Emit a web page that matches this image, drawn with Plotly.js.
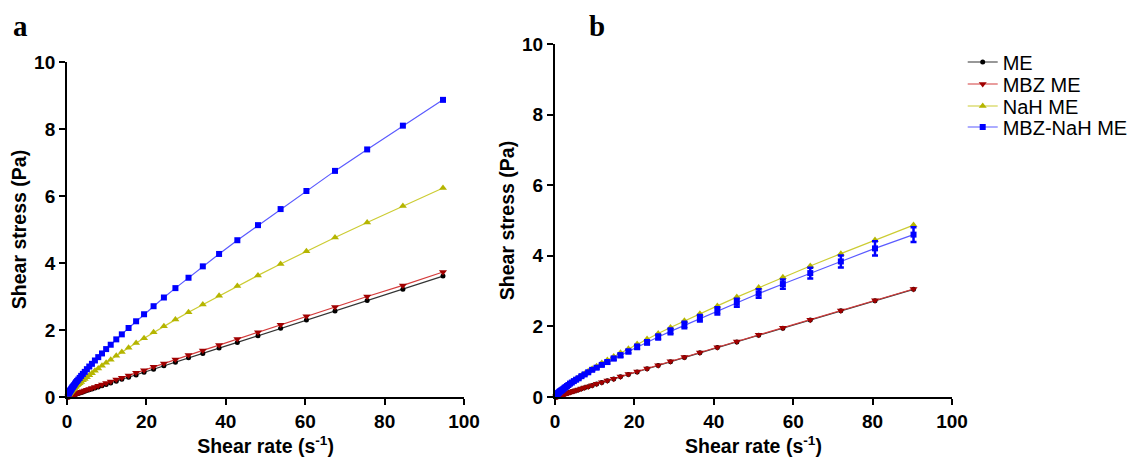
<!DOCTYPE html>
<html>
<head>
<meta charset="utf-8">
<script src="https://cdn.plot.ly/plotly-3.0.1.min.js"></script>
<style>html,body{margin:0;padding:0;background:#fff;}#chart{width:1148px;height:459px;}</style>
</head>
<body>
<div id="chart"></div>
<script>
// ---------- Data ----------
const seriesNames = ["ME", "MBZ ME", "NaH ME", "MBZ-NaH ME"];

// Panel a
const shearRateA = [94.7, 84.6, 75.6, 67.5, 60.3, 53.8, 48.1, 42.9, 38.3, 34.2, 30.6, 27.3, 24.4, 21.8, 19.4, 17.4, 15.5, 13.8, 12.4, 11.0, 9.85, 8.80, 7.86, 7.02, 6.27, 5.60, 5.00, 4.46, 3.99, 3.56, 3.18, 2.84, 2.54, 2.26, 2.02, 1.81, 1.61, 1.44, 1.29, 1.15, 1.03, 0.92, 0.82, 0.73, 0.65, 0.58, 0.52, 0.46, 0.41, 0.37];
const stressA_ME = [3.61, 3.22, 2.88, 2.57, 2.30, 2.05, 1.83, 1.63, 1.46, 1.30, 1.17, 1.04, 0.93, 0.83, 0.74, 0.66, 0.59, 0.53, 0.47, 0.42, 0.375, 0.335, 0.30, 0.267, 0.239, 0.213, 0.19, 0.17, 0.152, 0.136, 0.121, 0.108, 0.097, 0.086, 0.077, 0.069, 0.061, 0.055, 0.049, 0.044, 0.039, 0.035, 0.031, 0.028, 0.025, 0.022, 0.020, 0.018, 0.016, 0.014];
const stressA_MBZ = [3.73, 3.33, 3.00, 2.69, 2.41, 2.16, 1.93, 1.73, 1.55, 1.39, 1.25, 1.12, 1.00, 0.90, 0.80, 0.72, 0.645, 0.576, 0.519, 0.462, 0.415, 0.372, 0.334, 0.299, 0.268, 0.240, 0.215, 0.193, 0.173, 0.155, 0.139, 0.124, 0.112, 0.100, 0.089, 0.080, 0.072, 0.064, 0.058, 0.052, 0.046, 0.042, 0.037, 0.033, 0.030, 0.027, 0.024, 0.021, 0.019, 0.017];
const stressA_NaH = [6.24, 5.70, 5.21, 4.76, 4.35, 3.97, 3.63, 3.31, 3.02, 2.76, 2.53, 2.31, 2.11, 1.93, 1.75, 1.61, 1.47, 1.34, 1.23, 1.11, 1.02, 0.93, 0.85, 0.78, 0.71, 0.65, 0.59, 0.54, 0.50, 0.45, 0.41, 0.38, 0.35, 0.31, 0.29, 0.26, 0.24, 0.22, 0.20, 0.18, 0.17, 0.15, 0.14, 0.13, 0.12, 0.11, 0.10, 0.09, 0.08, 0.07];
const stressA_MBZNaH = [8.87, 8.10, 7.39, 6.75, 6.15, 5.61, 5.13, 4.68, 4.27, 3.90, 3.56, 3.25, 2.97, 2.71, 2.47, 2.26, 2.06, 1.87, 1.72, 1.56, 1.43, 1.30, 1.19, 1.09, 0.99, 0.91, 0.83, 0.75, 0.69, 0.63, 0.57, 0.52, 0.48, 0.44, 0.40, 0.36, 0.33, 0.30, 0.28, 0.25, 0.23, 0.21, 0.19, 0.18, 0.16, 0.15, 0.13, 0.12, 0.11, 0.10];

// Panel b
const shearRateB = [90.3, 80.6, 72.0, 64.3, 57.4, 51.3, 45.8, 40.9, 36.5, 32.6, 29.1, 26.0, 23.2, 20.7, 18.5, 16.5, 14.8, 13.2, 11.8, 10.5, 9.38, 8.38, 7.48, 6.68, 5.96, 5.33, 4.76, 4.25, 3.79, 3.39, 3.02, 2.70, 2.41, 2.15, 1.92, 1.72, 1.53, 1.37, 1.22, 1.09, 0.98, 0.87, 0.78, 0.70, 0.62, 0.55, 0.49, 0.44, 0.39, 0.35];
const stressB_ME = [3.05, 2.73, 2.44, 2.18, 1.95, 1.75, 1.56, 1.40, 1.25, 1.12, 1.00, 0.89, 0.80, 0.71, 0.64, 0.57, 0.51, 0.46, 0.41, 0.365, 0.327, 0.292, 0.261, 0.233, 0.208, 0.186, 0.166, 0.148, 0.132, 0.118, 0.105, 0.094, 0.084, 0.075, 0.067, 0.060, 0.053, 0.047, 0.042, 0.038, 0.034, 0.030, 0.027, 0.024, 0.021, 0.019, 0.017, 0.015, 0.013, 0.012];
const stressB_MBZ = [3.06, 2.74, 2.45, 2.19, 1.96, 1.76, 1.57, 1.41, 1.26, 1.13, 1.01, 0.90, 0.81, 0.72, 0.65, 0.58, 0.52, 0.465, 0.417, 0.372, 0.333, 0.298, 0.267, 0.239, 0.213, 0.191, 0.171, 0.153, 0.137, 0.123, 0.110, 0.098, 0.088, 0.079, 0.070, 0.063, 0.056, 0.050, 0.045, 0.040, 0.036, 0.032, 0.029, 0.026, 0.023, 0.021, 0.018, 0.017, 0.015, 0.013];
const stressB_NaH = [4.87, 4.45, 4.06, 3.71, 3.39, 3.10, 2.83, 2.58, 2.36, 2.16, 1.97, 1.80, 1.64, 1.50, 1.37, 1.25, 1.15, 1.05, 0.96, 0.87, 0.80, 0.73, 0.66, 0.61, 0.55, 0.51, 0.46, 0.42, 0.39, 0.35, 0.32, 0.29, 0.27, 0.24, 0.22, 0.20, 0.19, 0.17, 0.16, 0.14, 0.13, 0.12, 0.11, 0.10, 0.09, 0.08, 0.075, 0.069, 0.062, 0.057];
const stressB_MBZNaH = [4.60, 4.21, 3.84, 3.51, 3.20, 2.93, 2.67, 2.44, 2.23, 2.04, 1.86, 1.70, 1.55, 1.42, 1.29, 1.18, 1.09, 0.99, 0.91, 0.83, 0.77, 0.70, 0.64, 0.59, 0.53, 0.49, 0.45, 0.41, 0.38, 0.34, 0.31, 0.28, 0.26, 0.23, 0.21, 0.19, 0.18, 0.165, 0.155, 0.135, 0.125, 0.115, 0.105, 0.097, 0.087, 0.078, 0.073, 0.067, 0.060, 0.055];
const errB_MBZNaH = [0.21, 0.20, 0.17, 0.15, 0.13, 0.12, 0.11, 0.10, 0.09, 0.09, 0.08, 0.07, 0.06, 0.06, 0.05, 0.05, 0.04, 0.04, 0.03, 0.03, 0.03, 0.02, 0.02, 0.02, 0.02, 0.02, 0.01, 0.01, 0.01, 0.01, 0.01, 0.01, 0.01, 0.01, 0.01, 0.01, 0.01, 0.01, 0.01, 0.01, 0.01, 0.01, 0.01, 0.01, 0.01, 0.01, 0.01, 0.01, 0.01, 0.01];

// ---------- Styles ----------
const styles = [
  {line: "#333333", marker: "#000000", symbol: "circle", size: 5},
  {line: "#d43c3c", marker: "#a00000", symbol: "triangle-down", size: 7},
  {line: "#cccc33", marker: "#b5b500", symbol: "triangle-up", size: 7},
  {line: "#5a5aff", marker: "#0000ff", symbol: "square", size: 6}
];
const legendIds = ["legend", "legend2", "legend3", "legend4"];
const legendRowY = [62, 84, 106, 127];

function mk(x, y, i, xa, ya, showleg, err) {
  const s = styles[i];
  const t = {
    x: x, y: y, name: seriesNames[i], type: "scatter", mode: "lines+markers",
    xaxis: xa, yaxis: ya, showlegend: showleg, legend: legendIds[i], cliponaxis: false,
    line: {color: s.line, width: 1.2},
    marker: {color: s.marker, symbol: s.symbol, size: s.size, line: {width: 0}}
  };
  if (err) t.error_y = {type: "data", array: err, visible: true, color: "#0000ff", thickness: 2.5, width: 3};
  return t;
}

const data = [
  mk(shearRateA, stressA_ME, 0, "x", "y", true),
  mk(shearRateA, stressA_MBZ, 1, "x", "y", true),
  mk(shearRateA, stressA_NaH, 2, "x", "y", true),
  mk(shearRateA, stressA_MBZNaH, 3, "x", "y", true),
  mk(shearRateB, stressB_ME, 0, "x2", "y2", false),
  mk(shearRateB, stressB_MBZ, 1, "x2", "y2", false),
  mk(shearRateB, stressB_NaH, 2, "x2", "y2", false),
  mk(shearRateB, stressB_MBZNaH, 3, "x2", "y2", false, errB_MBZNaH)
];

const tickFont = {family: "Liberation Sans, Arial, sans-serif", size: 19, color: "#000", weight: "bold"};
const titleFont = {family: "Liberation Sans, Arial, sans-serif", size: 19.5, color: "#000", weight: "bold"};

function xax(domain, anchor) {
  return {
    domain: domain, anchor: anchor, range: [0, 100], tickvals: [0, 20, 40, 60, 80, 100],
    showline: true, linecolor: "#000", linewidth: 2, ticks: "outside", ticklen: 6, tickwidth: 2, tickcolor: "#000",
    showgrid: false, zeroline: false, tickfont: tickFont,
    title: {text: "Shear rate (s<sup>-1</sup>)", font: titleFont, standoff: 9}
  };
}
function yax(domain, anchor) {
  return {
    domain: domain, anchor: anchor, range: [0, 10], tickvals: [0, 2, 4, 6, 8, 10],
    showline: true, linecolor: "#000", linewidth: 2, ticks: "outside", ticklen: 6, tickwidth: 2, tickcolor: "#000",
    showgrid: false, zeroline: false, tickfont: tickFont,
    title: {text: "Shear stress (Pa)", font: titleFont, standoff: 2}
  };
}

const layout = {
  width: 1148, height: 459,
  margin: {l: 0, r: 0, t: 0, b: 0},
  paper_bgcolor: "#fff", plot_bgcolor: "#fff",
  showlegend: true,
  xaxis: xax([0.0584, 0.4042], "y"),
  yaxis: yax([0.1351, 0.8649], "x"),
  xaxis2: xax([0.4834, 0.8293], "y2"),
  yaxis2: yax([0.1351, 0.9041], "x2"),
  annotations: [
    {text: "a", xref: "paper", yref: "paper", x: 20/1148, y: 1 - 26/459, xanchor: "center", yanchor: "middle", showarrow: false,
     font: {family: "Liberation Serif, Times New Roman, serif", size: 29, color: "#000", weight: "bold"}},
    {text: "b", xref: "paper", yref: "paper", x: 597/1148, y: 1 - 26/459, xanchor: "center", yanchor: "middle", showarrow: false,
     font: {family: "Liberation Serif, Times New Roman, serif", size: 29, color: "#000", weight: "bold"}}
  ]
};
legendIds.forEach(function (id, i) {
  layout[id] = {
    x: 0.8386, y: 1 - legendRowY[i] / 459, xanchor: "left", yanchor: "middle",
    font: {family: "Liberation Sans, Arial, sans-serif", size: 20, color: "#000"},
    bgcolor: "rgba(0,0,0,0)", borderwidth: 0, itemwidth: 30
  };
});

Plotly.newPlot("chart", data, layout, {displayModeBar: false, staticPlot: true});
</script>
</body>
</html>
